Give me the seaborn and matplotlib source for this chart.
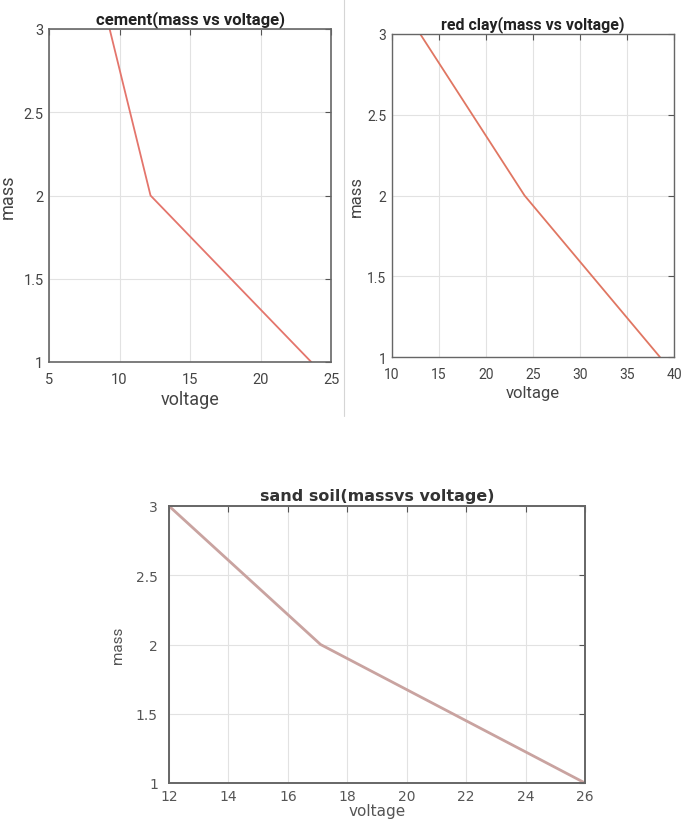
import pandas as pd
import matplotlib.pyplot as plt
import seaborn as sns
from matplotlib.lines import Line2D
from matplotlib import font_manager

# --- DATA ---
cement_voltage = [9.3, 12.2, 23.6]
cement_mass = [3, 2, 1]

clay_voltage = [13.0, 24.1, 38.5]
clay_mass = [3, 2, 1]

sand_voltage = [12.0, 17.1, 26.0]
sand_mass = [3, 2, 1]

sns.set_theme(style="white")

names = {f.name for f in font_manager.fontManager.ttflist}
narrow = "Liberation Sans Narrow" if "Liberation Sans Narrow" in names else "Roboto"
plt.rcParams["font.family"] = [narrow, "DejaVu Sans"]

W, H = 682, 829
fig = plt.figure(figsize=(W / 100, H / 100), dpi=100)


def px_axes(left, top, right, bottom):
    return fig.add_axes([left / W, 1 - bottom / H, (right - left) / W, (bottom - top) / H])


def style_axes(ax, lw_box):
    ax.grid(True, color="#e2e2e2", linewidth=0.8)
    ax.tick_params(direction="in", length=4, top=True, right=True,
                   color="#555555", width=0.8)
    ax.tick_params(axis="x", pad=7)
    ax.tick_params(axis="y", pad=4)
    for s in ax.spines.values():
        s.set_color("#666666")
        s.set_linewidth(lw_box)
        s.set_visible(True)


# --- cement ---
ax1 = px_axes(49, 30, 331, 363)
df1 = pd.DataFrame({"voltage": cement_voltage, "mass": cement_mass})
sns.lineplot(data=df1, x="voltage", y="mass", ax=ax1, color="#e4756c",
             linewidth=1.3, sort=False, estimator=None)
ax1.set_xlim(5, 25)
ax1.set_ylim(1, 3)
ax1.set_xticks([5, 10, 15, 20, 25])
ax1.set_yticks([1, 1.5, 2, 2.5, 3])
ax1.set_yticklabels(["1", "1.5", "2", "2.5", "3"])
style_axes(ax1, 1.2)
ax1.tick_params(labelsize=10.5, labelcolor="#444444")
ax1.set_title("cement(mass vs voltage)", fontsize=12, fontweight="bold",
              color="#222222", pad=4)
ax1.set_xlabel("voltage", fontsize=13, color="#444444", labelpad=3)
ax1.set_ylabel("mass", fontsize=13, color="#444444")
ax1.yaxis.set_label_coords(-0.115, 0.5)

# --- red clay ---
ax2 = px_axes(392, 35, 674, 358)
df2 = pd.DataFrame({"voltage": clay_voltage, "mass": clay_mass})
sns.lineplot(data=df2, x="voltage", y="mass", ax=ax2, color="#e07662",
             linewidth=1.3, sort=False, estimator=None)
ax2.set_xlim(10, 40)
ax2.set_ylim(1, 3)
ax2.set_xticks([10, 15, 20, 25, 30, 35, 40])
ax2.set_yticks([1, 1.5, 2, 2.5, 3])
ax2.set_yticklabels(["1", "1.5", "2", "2.5", "3"])
style_axes(ax2, 1.0)
ax2.tick_params(labelsize=10, labelcolor="#444444")
ax2.set_title("red clay(mass vs voltage)", fontsize=11.5, fontweight="bold",
              color="#222222", pad=4)
ax2.set_xlabel("voltage", fontsize=12, color="#444444", labelpad=3)
ax2.set_ylabel("mass", fontsize=12, color="#444444")
ax2.yaxis.set_label_coords(-0.1, 0.5)

# --- sand soil ---
ax3 = px_axes(169, 507, 585, 784)
df3 = pd.DataFrame({"voltage": sand_voltage, "mass": sand_mass})
sns.lineplot(data=df3, x="voltage", y="mass", ax=ax3, color="#c9a3a0",
             linewidth=2.0, sort=False, estimator=None)
ax3.set_xlim(12, 26)
ax3.set_ylim(1, 3)
ax3.set_xticks([12, 14, 16, 18, 20, 22, 24, 26])
ax3.set_yticks([1, 1.5, 2, 2.5, 3])
ax3.set_yticklabels(["1", "1.5", "2", "2.5", "3"])
style_axes(ax3, 1.4)
ax3.tick_params(axis="x", pad=4)
ax3.tick_params(axis="y", pad=8)
for lab in ax3.get_xticklabels() + ax3.get_yticklabels():
    lab.set_family("DejaVu Sans")
ax3.tick_params(labelsize=10, labelcolor="#555555")
ax3.set_title("sand soil(massvs voltage)", fontsize=11.5, fontweight="bold",
              color="#333333", pad=4, family="DejaVu Sans")
ax3.set_xlabel("voltage", fontsize=11, color="#555555", labelpad=0,
               family="DejaVu Sans")
ax3.set_ylabel("mass", fontsize=11, color="#555555", family=narrow)
ax3.yaxis.set_label_coords(-0.105, 0.5)

# divider between the two top panels
fig.add_artist(Line2D([344 / W, 344 / W], [1, 1 - 417 / H],
                      transform=fig.transFigure, color="#d5d5d5", linewidth=0.8))

plt.savefig("out.png", dpi=100, facecolor="white")
